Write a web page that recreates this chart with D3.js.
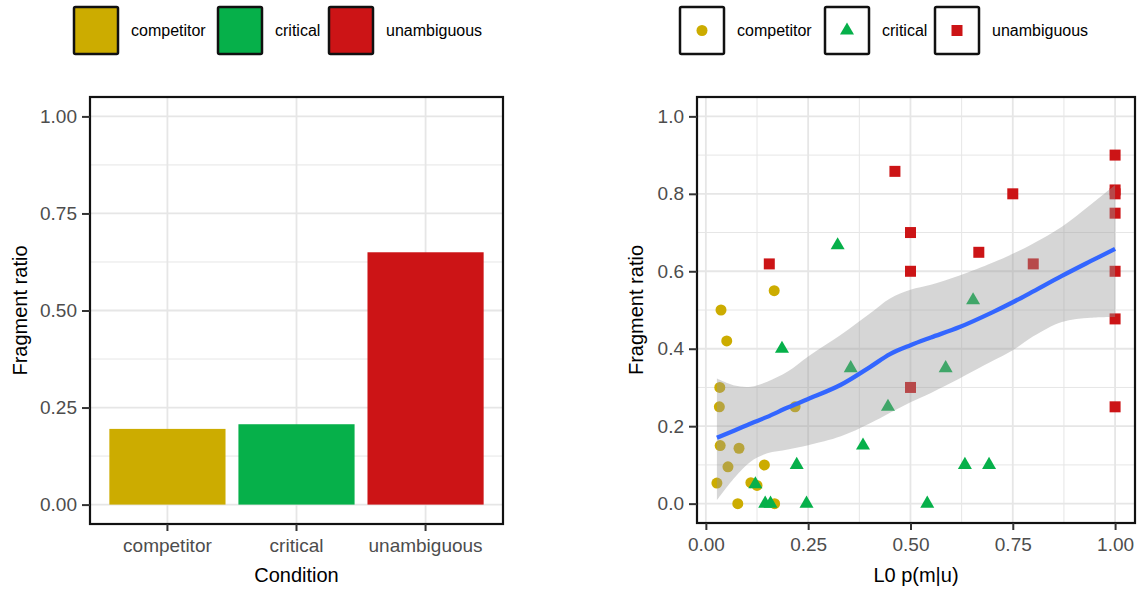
<!DOCTYPE html>
<html>
<head>
<meta charset="utf-8">
<script src="https://cdn.jsdelivr.net/npm/d3@7"></script>
<style>
  body { margin: 0; background: #fff; }
  svg { display: block; font-family: "Liberation Sans", Arial, sans-serif; }
</style>
</head>
<body>
<svg id="chart" width="1144" height="590"></svg>
<script>
// ---- data ----
const conditions = ["competitor", "critical", "unambiguous"];
const barValues = [0.195, 0.207, 0.65];
const condColors = ["#ccac00", "#06b04a", "#cc1416"];

const barYTicks = [0, 0.25, 0.5, 0.75, 1];
const barYTickLabels = ["0.00", "0.25", "0.50", "0.75", "1.00"];
const scatterXTicks = [0, 0.25, 0.5, 0.75, 1];
const scatterXTickLabels = ["0.00", "0.25", "0.50", "0.75", "1.00"];
const scatterYTicks = [0, 0.2, 0.4, 0.6, 0.8, 1];
const scatterYTickLabels = ["0.0", "0.2", "0.4", "0.6", "0.8", "1.0"];

const competitorX = [0.037, 0.167, 0.051, 0.034, 0.033, 0.218, 0.035, 0.081, 0.054, 0.143, 0.027, 0.110, 0.125, 0.078, 0.168];
const competitorY = [0.50, 0.55, 0.42, 0.30, 0.25, 0.25, 0.15, 0.143, 0.095, 0.10, 0.053, 0.054, 0.047, 0, 0];
const criticalX = [0.322, 0.186, 0.354, 0.445, 0.586, 0.653, 0.384, 0.222, 0.633, 0.692, 0.121, 0.145, 0.158, 0.246, 0.541];
const criticalY = [0.667, 0.40, 0.35, 0.25, 0.35, 0.525, 0.15, 0.10, 0.10, 0.10, 0.05, 0, 0, 0, 0];
const unambiguousX = [0.462, 0.5, 0.5, 0.155, 0.5, 1.0, 1.0, 1.0, 1.0, 0.75, 0.667, 0.80, 1.0, 1.0, 1.0];
const unambiguousY = [0.858, 0.70, 0.60, 0.619, 0.30, 0.90, 0.81, 0.80, 0.75, 0.80, 0.649, 0.619, 0.60, 0.477, 0.25];

// loess fit and its band
const smoothX = [0.027, 0.07, 0.11, 0.15, 0.2, 0.25, 0.33, 0.4, 0.45, 0.5, 0.55, 0.62, 0.7, 0.75, 0.8, 0.87, 0.94, 1.0];
const smoothY = [0.170, 0.189, 0.207, 0.224, 0.248, 0.270, 0.307, 0.352, 0.386, 0.409, 0.429, 0.456, 0.494, 0.520, 0.548, 0.588, 0.626, 0.658];
const smoothHigh = [0.323, 0.305, 0.302, 0.315, 0.341, 0.380, 0.436, 0.490, 0.530, 0.552, 0.565, 0.589, 0.622, 0.645, 0.672, 0.715, 0.772, 0.823];
const smoothLow = [0.009, 0.067, 0.109, 0.130, 0.140, 0.151, 0.174, 0.207, 0.235, 0.262, 0.286, 0.323, 0.368, 0.396, 0.432, 0.469, 0.480, 0.482];

const svg = d3.select("#chart");
const gridColor = "#e6e6e6";
const tickColor = "#333";
const labelColor = "#4d4d4d";

// ---- left: bar chart ----
const left = { x0: 90, x1: 503, y0: 97, y1: 524 };
const xBand = d3.scaleBand().domain(conditions)
  .range([left.x0, left.x1]).paddingInner(0.1).paddingOuter(0.15);
const yBar = d3.scaleLinear().domain([-0.05, 1.05]).range([left.y1, left.y0]);

const gL = svg.append("g");
// minor grid
gL.selectAll(".minor").data([0.125, 0.375, 0.625, 0.875]).enter().append("line")
  .attr("x1", left.x0).attr("x2", left.x1)
  .attr("y1", d => yBar(d)).attr("y2", d => yBar(d))
  .attr("stroke", gridColor).attr("stroke-width", 1);
gL.selectAll(".major").data(barYTicks).enter().append("line")
  .attr("x1", left.x0).attr("x2", left.x1)
  .attr("y1", d => yBar(d)).attr("y2", d => yBar(d))
  .attr("stroke", gridColor).attr("stroke-width", 1.8);
gL.selectAll(".vmajor").data(conditions).enter().append("line")
  .attr("x1", d => xBand(d) + xBand.bandwidth() / 2).attr("x2", d => xBand(d) + xBand.bandwidth() / 2)
  .attr("y1", left.y0).attr("y2", left.y1)
  .attr("stroke", gridColor).attr("stroke-width", 1.8);

gL.selectAll(".bar").data(conditions).enter().append("rect")
  .attr("x", d => xBand(d))
  .attr("width", xBand.bandwidth())
  .attr("y", (d, i) => yBar(barValues[i]))
  .attr("height", (d, i) => yBar(0) - yBar(barValues[i]))
  .attr("fill", (d, i) => condColors[i]);

gL.append("rect")
  .attr("x", left.x0).attr("y", left.y0)
  .attr("width", left.x1 - left.x0).attr("height", left.y1 - left.y0)
  .attr("fill", "none").attr("stroke", "#111").attr("stroke-width", 2.2);

const axLY = gL.append("g").attr("transform", `translate(${left.x0},0)`)
  .call(d3.axisLeft(yBar).tickValues(barYTicks).tickFormat((d, i) => barYTickLabels[i]).tickSize(8).tickPadding(5));
const axLX = gL.append("g").attr("transform", `translate(0,${left.y1})`)
  .call(d3.axisBottom(xBand).tickSize(7).tickPadding(8));

// ---- right: scatter ----
const right = { x0: 697, x1: 1135, y0: 97, y1: 523 };
const allX = competitorX.concat(criticalX, unambiguousX);
const xExt = d3.extent(allX);
const xPad = (xExt[1] - xExt[0]) * 0.05;
const xSc = d3.scaleLinear().domain([xExt[0] - xPad, xExt[1] + xPad]).range([right.x0, right.x1]);
const ySc = d3.scaleLinear().domain([-0.05, 1.05]).range([right.y1, right.y0]);

const gR = svg.append("g");
gR.selectAll(".hminor").data([0.1, 0.3, 0.5, 0.7, 0.9]).enter().append("line")
  .attr("x1", right.x0).attr("x2", right.x1)
  .attr("y1", d => ySc(d)).attr("y2", d => ySc(d))
  .attr("stroke", gridColor).attr("stroke-width", 1);
gR.selectAll(".vminor").data([0.125, 0.375, 0.625, 0.875]).enter().append("line")
  .attr("y1", right.y0).attr("y2", right.y1)
  .attr("x1", d => xSc(d)).attr("x2", d => xSc(d))
  .attr("stroke", gridColor).attr("stroke-width", 1);
gR.selectAll(".hmajor").data(scatterYTicks).enter().append("line")
  .attr("x1", right.x0).attr("x2", right.x1)
  .attr("y1", d => ySc(d)).attr("y2", d => ySc(d))
  .attr("stroke", gridColor).attr("stroke-width", 1.8);
gR.selectAll(".vmajor").data(scatterXTicks).enter().append("line")
  .attr("y1", right.y0).attr("y2", right.y1)
  .attr("x1", d => xSc(d)).attr("x2", d => xSc(d))
  .attr("stroke", gridColor).attr("stroke-width", 1.8);

const circleSym = d3.symbol().type(d3.symbolCircle).size(95);
const triSym = d3.symbol().type(d3.symbolTriangle).size(85);
const sqSym = d3.symbol().type(d3.symbolSquare).size(121);

const pts = [
  { xs: competitorX, ys: competitorY, sym: circleSym, color: condColors[0] },
  { xs: criticalX, ys: criticalY, sym: triSym, color: condColors[1] },
  { xs: unambiguousX, ys: unambiguousY, sym: sqSym, color: condColors[2] }
];
pts.forEach(p => {
  gR.selectAll(null).data(p.xs).enter().append("path")
    .attr("d", p.sym)
    .attr("transform", (d, i) => `translate(${xSc(d)},${ySc(p.ys[i])})`)
    .attr("fill", p.color);
});

const smooth = smoothX.map((x, i) => ({ x, y: smoothY[i], lo: smoothLow[i], hi: smoothHigh[i] }));
gR.append("path")
  .datum(smooth)
  .attr("d", d3.area().curve(d3.curveCatmullRom)
    .x(d => xSc(d.x)).y0(d => ySc(d.lo)).y1(d => ySc(d.hi)))
  .attr("fill", "#999").attr("fill-opacity", 0.4);
gR.append("path")
  .datum(smooth)
  .attr("d", d3.line().curve(d3.curveCatmullRom).x(d => xSc(d.x)).y(d => ySc(d.y)))
  .attr("fill", "none").attr("stroke", "#3366ff").attr("stroke-width", 4.3);

gR.append("rect")
  .attr("x", right.x0).attr("y", right.y0)
  .attr("width", right.x1 - right.x0).attr("height", right.y1 - right.y0)
  .attr("fill", "none").attr("stroke", "#111").attr("stroke-width", 2.2);

const axRY = gR.append("g").attr("transform", `translate(${right.x0},0)`)
  .call(d3.axisLeft(ySc).tickValues(scatterYTicks).tickFormat((d, i) => scatterYTickLabels[i]).tickSize(8).tickPadding(5));
const axRX = gR.append("g").attr("transform", `translate(0,${right.y1})`)
  .call(d3.axisBottom(xSc).tickValues(scatterXTicks).tickFormat((d, i) => scatterXTickLabels[i]).tickSize(7).tickPadding(8));

[axLY, axLX, axRY, axRX].forEach(ax => {
  ax.select(".domain").remove();
  ax.selectAll(".tick line").attr("stroke", tickColor).attr("stroke-width", 2);
  ax.selectAll(".tick text").attr("fill", labelColor).style("font-size", "19px");
});

// axis titles
svg.append("text").attr("x", (left.x0 + left.x1) / 2).attr("y", 582)
  .attr("text-anchor", "middle").style("font-size", "20px").text("Condition");
svg.append("text").attr("transform", `translate(27,${(left.y0 + left.y1) / 2}) rotate(-90)`)
  .attr("text-anchor", "middle").style("font-size", "20px").text("Fragment ratio");
svg.append("text").attr("x", (right.x0 + right.x1) / 2).attr("y", 582)
  .attr("text-anchor", "middle").style("font-size", "20px").text("L0 p(m|u)");
svg.append("text").attr("transform", `translate(643,${(right.y0 + right.y1) / 2}) rotate(-90)`)
  .attr("text-anchor", "middle").style("font-size", "20px").text("Fragment ratio");

// ---- legends ----
const legLeftX = [74, 218, 329];
const legRightX = [680, 825, 935];
const keyW = 44, keyH = 47, keyY = 7;

conditions.forEach((c, i) => {
  svg.append("rect").attr("x", legLeftX[i]).attr("y", keyY)
    .attr("width", keyW).attr("height", keyH).attr("rx", 1.5)
    .attr("fill", condColors[i]).attr("stroke", "#111").attr("stroke-width", 2.5);
  svg.append("text").attr("x", legLeftX[i] + keyW + 13).attr("y", keyY + keyH / 2)
    .attr("dominant-baseline", "central").style("font-size", "16px").text(c);

  svg.append("rect").attr("x", legRightX[i]).attr("y", keyY)
    .attr("width", keyW).attr("height", keyH).attr("rx", 1.5)
    .attr("fill", "#fff").attr("stroke", "#111").attr("stroke-width", 2.5);
  svg.append("path").attr("d", pts[i].sym)
    .attr("transform", `translate(${legRightX[i] + keyW / 2},${keyY + keyH / 2})`)
    .attr("fill", condColors[i]);
  svg.append("text").attr("x", legRightX[i] + keyW + 13).attr("y", keyY + keyH / 2)
    .attr("dominant-baseline", "central").style("font-size", "16px").text(c);
});
</script>
</body>
</html>
